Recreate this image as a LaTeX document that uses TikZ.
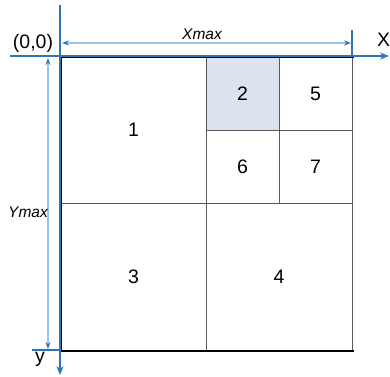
\documentclass[tikz,border=0pt]{standalone}
\usepackage{fontspec}
\setmainfont{Liberation Sans}
\usetikzlibrary{arrows.meta}

\definecolor{axisblue}{HTML}{2E75B6}
\definecolor{dimblue}{HTML}{9DC3E6}
\definecolor{cellfill}{HTML}{DCE3EE}
\definecolor{cellline}{HTML}{595959}

\begin{document}
\begin{tikzpicture}[
    x=1pt, y=-1pt,
    cell/.style={
      draw=cellline,
      line width=1pt,
      inner sep=0pt,
      font=\fontsize{19.5}{19.5}\selectfont
    },
    axis/.style={draw=axisblue, line width=1.5pt, -{Stealth[length=9pt,width=7pt]}},
    dimline/.style={draw=dimblue, line width=1.2pt,
      {Stealth[length=7pt,width=5pt,color=axisblue]}-{Stealth[length=7pt,width=5pt,color=axisblue]}},
    tick/.style={draw=axisblue, line width=1.2pt},
    lbl/.style={font=\fontsize{19.5}{19.5}\selectfont, inner sep=0pt},
    dimlbl/.style={font=\fontsize{15.5}{15.5}\selectfont\itshape, inner sep=0pt}
  ]
    \useasboundingbox (0,0) rectangle (390,376);

    % cells
    \node (c1) [cell, minimum width=145pt, minimum height=146pt] at (133.5,130) {1};
    \node (c2) [cell, fill=cellfill, minimum width=73pt, minimum height=73pt] at (242.5,93.5) {2};
    \node (c5) [cell, minimum width=73pt, minimum height=73pt] at (315.5,93.5) {5};
    \node (c6) [cell, minimum width=73pt, minimum height=73pt] at (242.5,166.5) {6};
    \node (c7) [cell, minimum width=73pt, minimum height=73pt] at (315.5,166.5) {7};
    \node (c3) [cell, minimum width=145pt, minimum height=147pt] at (133.5,276.5) {3};
    \node (c4) [cell, minimum width=146pt, minimum height=147pt] at (279,276.5) {4};

    % outer border
    \draw[line width=2pt, line cap=rect] (c4.south east) -- (c3.south west) -- (c1.north west) -- (c5.north east);

    % axes
    \coordinate (xstart) at (10,56);
    \coordinate (xend) at (389,56);
    \coordinate (ystart) at (60,5);
    \coordinate (yend) at (60,375);
    \draw[axis] (xstart) -- (xend);
    \draw[axis] (ystart) -- (yend);
    \node (origin) [lbl] at (33,43) {(0,0)};
    \node (xlbl) [lbl, anchor=west] at (377,40) {X};
    \node (ylbl) [lbl] at (40,359) {y};

    % dimensions
    \coordinate (xtickt) at (352,30);
    \coordinate (xtickb) at (352,57);
    \coordinate (ytickl) at (32,350);
    \coordinate (ytickr) at (60,350);
    \coordinate (xdimw) at (62,43);
    \coordinate (xdime) at (351,43);
    \coordinate (ydimn) at (48,58);
    \coordinate (ydims) at (48,349);
    \draw[tick] (xtickt) -- (xtickb);
    \draw[tick] (ytickl) -- (ytickr);
    \draw[dimline] (xdimw) -- (xdime);
    \draw[dimline] (ydimn) -- (ydims);
    \node (xmax) [dimlbl] at (202,34) {Xmax};
    \node (ymax) [dimlbl] at (28,212) {Ymax};
\end{tikzpicture}
\end{document}
